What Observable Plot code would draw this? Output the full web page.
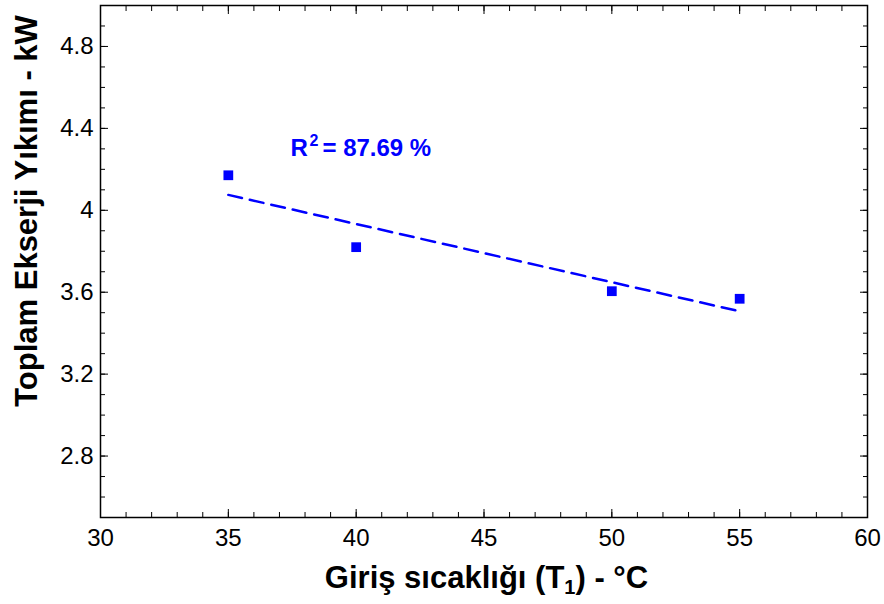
<!DOCTYPE html>
<html>
<head>
<meta charset="utf-8">
<script src="https://cdn.jsdelivr.net/npm/d3@7"></script>
<script src="https://cdn.jsdelivr.net/npm/@observablehq/plot@0.6"></script>
<style>
  html, body { margin: 0; padding: 0; background: #fff; }
  #chart svg { display: block; }
</style>
</head>
<body>
<div id="chart"></div>
<script>
// Data
const temps = [35, 40, 50, 55];              // Giriş sıcaklığı (°C)
const exergy = [4.171, 3.82, 3.605, 3.568];  // Toplam Ekserji Yıkımı (kW)
const xTicks = [30, 35, 40, 45, 50, 55, 60];
const yTicks = [2.8, 3.2, 3.6, 4.0, 4.4, 4.8];
const xMinor = d3.range(30, 61, 1);
const yMinor = d3.range(25, 51, 1).map(v => v / 10);
const r2Label = "87.69 %";
const r2Pos = {x: 37.43, y: 4.263};

const pts = temps.map((t, i) => ({t, e: exergy[i]}));
const blue = "#0000ff";
const font = "'Liberation Sans', Arial, sans-serif";

const W = 884, H = 604;
const mL = 100, mR = 17, mT = 5, mB = 87;

const fmtY = d => d === 4 ? "4" : d3.format(".1f")(d);

const plot = Plot.plot({
  width: W, height: H,
  marginLeft: mL, marginRight: mR, marginTop: mT, marginBottom: mB,
  style: {fontFamily: font, fontSize: "24px", color: "#000", background: "#fff"},
  x: {domain: [30, 60], label: null},
  y: {domain: [2.5, 5.0], label: null},
  marks: [
    // minor ticks (inward) on all four sides
    Plot.axisX({ticks: xMinor, tickSize: -5, tickFormat: () => "", anchor: "bottom", stroke: "#000", label: null}),
    Plot.axisX({ticks: xMinor, tickSize: -5, tickFormat: () => "", anchor: "top", stroke: "#000", label: null}),
    Plot.axisY({ticks: yMinor, tickSize: -5, tickFormat: () => "", anchor: "left", stroke: "#000", label: null}),
    Plot.axisY({ticks: yMinor, tickSize: -5, tickFormat: () => "", anchor: "right", stroke: "#000", label: null}),
    // major ticks with labels
    Plot.axisX({ticks: xTicks, tickSize: -8, tickPadding: 19, anchor: "bottom", stroke: "#000", fill: "#000", fontSize: 24, label: null}),
    Plot.axisX({ticks: xTicks, tickSize: -8, tickFormat: () => "", anchor: "top", stroke: "#000", label: null}),
    Plot.axisY({ticks: yTicks, tickSize: -8, tickPadding: 15, tickFormat: fmtY, anchor: "left", stroke: "#000", fill: "#000", fontSize: 24, label: null}),
    Plot.axisY({ticks: yTicks, tickSize: -8, tickFormat: () => "", anchor: "right", stroke: "#000", label: null}),
    Plot.frame({stroke: "#000", strokeWidth: 1.5}),
    // regression line
    Plot.linearRegressionY(pts, {x: "t", y: "e", ci: 0, stroke: blue, strokeWidth: 2.5, strokeDasharray: "14,8"}),
    // data points
    Plot.dot(pts, {x: "t", y: "e", symbol: "square", r: 5.5, fill: blue, stroke: "none"}),
    // R² annotation
    Plot.text([r2Pos], {x: "x", y: "y", text: () => "R", textAnchor: "start", lineAnchor: "bottom", fill: blue, fontWeight: "bold", fontSize: 24}),
    Plot.text([r2Pos], {x: "x", y: "y", text: () => "2", textAnchor: "start", lineAnchor: "bottom", dx: 19, dy: -10, fill: blue, fontWeight: "bold", fontSize: 16}),
    Plot.text([r2Pos], {x: "x", y: "y", text: () => "= " + r2Label, textAnchor: "start", lineAnchor: "bottom", dx: 32, fill: blue, fontWeight: "bold", fontSize: 24})
  ]
});

// axis titles with sub/superscript need tspans
const svg = d3.select(plot);
const xt = svg.append("text")
  .attr("x", mL + (W - mL - mR) / 2 + 3)
  .attr("y", 588)
  .attr("text-anchor", "middle")
  .attr("font-family", font)
  .attr("font-weight", "bold")
  .attr("font-size", 31)
  .attr("fill", "#000");
xt.append("tspan").text("Giriş sıcaklığı (T");
xt.append("tspan").attr("font-size", 20).attr("dy", 6).text("1");
xt.append("tspan").attr("dy", -6).text(") - °C");

svg.append("text")
  .attr("transform", "translate(37,211) rotate(-90)")
  .attr("text-anchor", "middle")
  .attr("font-family", font)
  .attr("font-weight", "bold")
  .attr("font-size", 31)
  .attr("fill", "#000")
  .text("Toplam Ekserji Yıkımı - kW");

document.getElementById("chart").appendChild(plot);
</script>
</body>
</html>
